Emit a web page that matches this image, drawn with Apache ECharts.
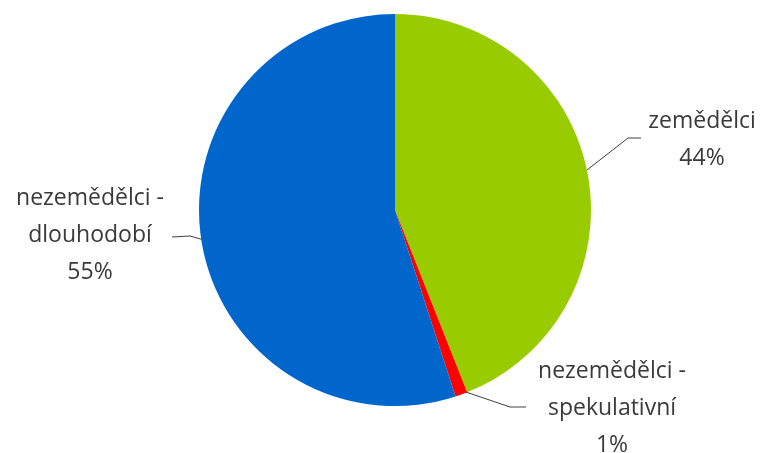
<!DOCTYPE html>
<html>
<head>
<meta charset="utf-8">
<script src="https://cdn.jsdelivr.net/npm/echarts@6/dist/echarts.min.js"></script>
<style>html,body{margin:0;padding:0;background:#fff;}#c{width:763px;height:453px;}</style>
</head>
<body>
<div id="c"></div>
<script>
var categories = ['zemědělci', 'nezemědělci -\nspekulativní', 'nezemědělci -\ndlouhodobí'];
var values = [44, 1, 55];
var colors = ['#99CC00', '#FF0000', '#0066CC'];

var labelPos = [
  {x: 702, y: 140, line: [[587, 170], [628, 138], [641, 138]]},
  {x: 612, y: 408, line: [[463, 391], [510, 407], [526, 407]]},
  {x: 90, y: 235, line: [[204, 240], [190, 236], [172, 237]]}
];

var chart = echarts.init(document.getElementById('c'));
chart.setOption({
  animation: false,
  backgroundColor: '#ffffff',
  series: [{
    type: 'pie',
    center: [395, 210],
    radius: 196,
    startAngle: 90,
    clockwise: true,
    data: categories.map(function (c, i) {
      return {name: c, value: values[i], itemStyle: {color: colors[i]}};
    }),
    label: {
      show: true,
      formatter: function (p) { return p.name + '\n' + p.value + '%'; },
      fontFamily: 'Open Sans',
      fontSize: 23,
      lineHeight: 37,
      color: '#3a3a3a',
      align: 'center',
      overflow: 'none',
      width: 300
    },
    labelLine: {show: true, lineStyle: {color: '#404040', width: 1}},
    labelLayout: function (p) {
      var lp = labelPos[p.dataIndex];
      return {x: lp.x, y: lp.y, align: 'center', verticalAlign: 'middle', labelLinePoints: lp.line};
    },
    emphasis: {disabled: true}
  }]
});
</script>
</body>
</html>
